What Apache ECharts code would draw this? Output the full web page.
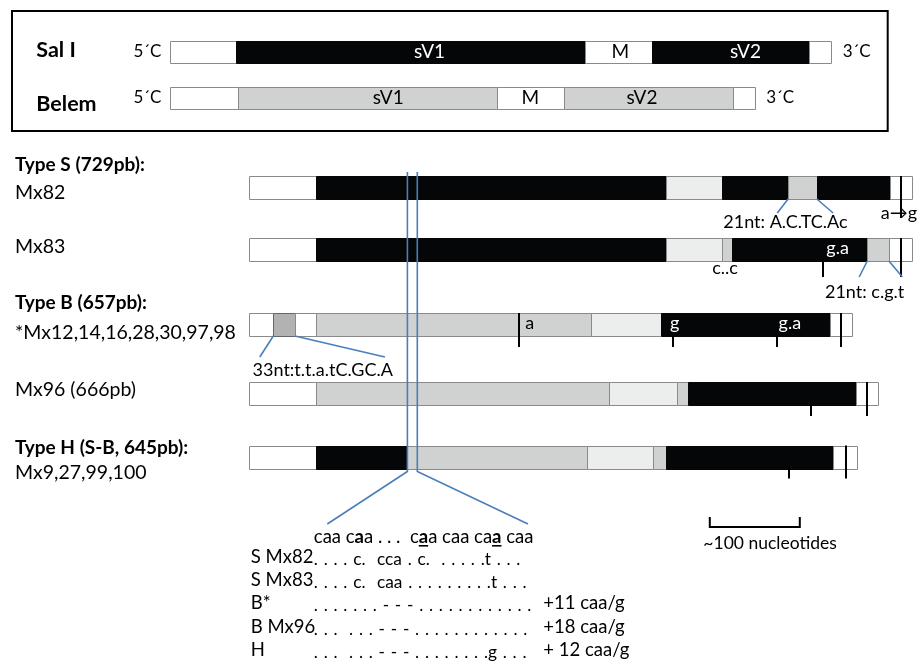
<!DOCTYPE html>
<html><head><meta charset="utf-8">
<script src="https://cdn.jsdelivr.net/npm/echarts@6/dist/echarts.min.js"></script>
<style>html,body{margin:0;padding:0;background:#fff}#c{width:919px;height:662px}</style>
</head><body><div id="c"></div>
<script>
// ================= DATA (nucleotide-like positions) =================
// Reference genomes (top box)
const REF_NAMES = ['Sal I', 'Belem'];
const SAL_I_BOUNDS = [0, 74, 462, 536, 711, 735];
const SAL_I_KINDS  = ['W', 'S', 'W', 'S', 'W'];
const BELEM_BOUNDS = [0, 76, 364, 438, 626, 651];
const BELEM_KINDS  = ['W', 'B', 'W', 'B', 'W'];
const REGION_LABELS = ['sV1', 'M', 'sV2'];
const SAL_I_LABEL_AT = [289, 501, 640];
const BELEM_LABEL_AT = [243, 401, 525];

// Isolates
const GROUP_TITLES = ['Type S (729pb):', 'Type B (657pb):', 'Type H (S-B, 645pb):'];
const ISOLATES = ['Mx82', 'Mx83', '*Mx12,14,16,28,30,97,98', 'Mx96 (666pb)', 'Mx9,27,99,100'];
const MX82_BOUNDS = [0, 74, 463, 526, 599, 631, 712, 737];
const MX82_KINDS  = ['W', 'S', 'L', 'S', 'B', 'S', 'W'];
const MX83_BOUNDS = [0, 74, 463, 526, 537, 687, 711, 737];
const MX83_KINDS  = ['W', 'S', 'L', 'B', 'S', 'B', 'W'];
const TYPEB_BOUNDS = [0, 27, 51, 74, 380, 458, 646, 670];
const TYPEB_KINDS  = ['W', 'P', 'W', 'B', 'L', 'S', 'W'];
const MX96_BOUNDS = [0, 74, 400, 476, 488, 674, 699];
const MX96_KINDS  = ['W', 'B', 'L', 'B', 'S', 'W'];
const TYPEH_BOUNDS = [0, 74, 176, 376, 449, 463, 649, 676];
const TYPEH_KINDS  = ['W', 'S', 'B', 'L', 'B', 'S', 'W'];

// point mutations: position, 'full' (crosses bar) or 'below'
const MX82_MUT = [[724, 'full']];
const MX83_MUT = [[724, 'full'], [638, 'below']];
const TYPEB_MUT = [[300, 'full'], [471, 'below'], [587, 'below'], [658, 'full']];
const MX96_MUT = [[624, 'below'], [687, 'full']];
const TYPEH_MUT = [[600, 'below'], [663, 'full']];

// labels written inside bars
const MX83_INBAR = [[654, 'g.a']];
const TYPEB_INBAR = [[312, 'a'], [473, 'g'], [601, 'g.a']];

// insert / substitution notes
const NOTES = ['21nt: A.C.TC.Ac', 'a\u2192g', 'c..c', '21nt: c.g.t', '33nt:t.t.a.tC.GC.A'];
const NOTE_SPANS = [[599, 631], null, null, [687, 711], [27, 51]]; // region each note points to

// repeat region zoomed below
const REPEAT_SPAN = [176, 187];
const SCALE_NT = [512, 612];
const SCALE_TEXT = '~100 nucleotides';

// alignment of the repeat region
const ALIGN_HEADER_PARTS = [['caa c', 0], ['a', 1], ['a . . .  c', 0], ['a', 2], ['a caa ca', 0], ['a', 2], [' caa', 0]];
const ALIGN_LABELS = ['S Mx82', 'S Mx83', 'B*', 'B Mx96', 'H'];
const ALIGN_SEQS = [
  '. . . . c.  cca . c.  . . . . .t . . .',
  '. . . . c.  caa . . . . . . . . .t . . .',
  '. . . . . . . - - - . . . . . . . . . . . .',
  '. . .  . . . - - - . . . . . . . . . . . .',
  '. . .  . . . - - - . . . . . . . .g . . .'
];
const ALIGN_EXTRA = ['', '', '+11 caa/g', '+18 caa/g', '+ 12 caa/g'];

// ================= LAYOUT / STYLE =================
const PX_PER_NT = 0.9;
const W = 919, H = 662;
const LOW_ORIGIN = 249, TOP_ORIGIN = 169.5;
const REF_ROW_Y = [52, 97.5], REF_BAR_H = 22;
const ROW_Y = [187.5, 249.5, 324.5, 393.5, 457], BAR_H = 23;
const TICK_DROP = [19, 16, 11, 11, 10];
const FILL = { W: '#ffffff', S: '#050608', B: '#d0d2d1', L: '#eceeed', P: '#b2b2b2' };
const BLUE = '#4a7ebb';
const FONT = 'Lato, "Open Sans", sans-serif';
const fnt = (s, b) => (b ? 'bold ' : '') + s + 'px ' + FONT;
const SEQ_SPACE = '\u2004'; // wider gap between alignment dots

// ================= BUILD =================
const chart = echarts.init(document.getElementById('c'));
const mctx = document.createElement('canvas').getContext('2d');
const measure = (t, font) => { mctx.font = font; return mctx.measureText(t).width; };

function segs(bounds, kinds, row) {
  return kinds.map((k, i) => [bounds[i], bounds[i + 1], row, k]);
}
const REF_SEGS = segs(SAL_I_BOUNDS, SAL_I_KINDS, 0).concat(segs(BELEM_BOUNDS, BELEM_KINDS, 1));
const ISO_B = [MX82_BOUNDS, MX83_BOUNDS, TYPEB_BOUNDS, MX96_BOUNDS, TYPEH_BOUNDS];
const ISO_K = [MX82_KINDS, MX83_KINDS, TYPEB_KINDS, MX96_KINDS, TYPEH_KINDS];
let ISO_SEGS = [];
ISO_B.forEach((b, r) => { ISO_SEGS = ISO_SEGS.concat(segs(b, ISO_K[r], r)); });

function kindAt(row, pos) {
  const b = ISO_B[row];
  for (let i = 0; i < b.length - 1; i++) if (pos >= b[i] && pos <= b[i + 1]) return ISO_K[row][i];
  return 'W';
}

function segRenderer(list, rowY, barH) {
  return function (params, api) {
    const item = list[params.dataIndex];
    const y = rowY[item[2]];
    const p0 = api.coord([item[0], y]), p1 = api.coord([item[1], y]);
    const k = item[3];
    const x0 = Math.round(p0[0]) + 0.5, x1 = Math.round(p1[0]) + 0.5, top = Math.round(p0[1] - barH / 2) + 0.5;
    return {
      type: 'rect', shape: { x: x0, y: top, width: x1 - x0, height: barH },
      style: { fill: FILL[k], stroke: k === 'S' ? FILL.S : (k === 'P' ? '#666' : '#8a8a8a'), lineWidth: 1 }
    };
  };
}

// generic text items: [x, y, text, font, color, align]
const TOP_TEXTS = [];
REF_NAMES.forEach((n, i) => TOP_TEXTS.push([-148, [50, 104][i], n, fnt(21.5, true), '#000', 'left']));
REF_NAMES.forEach((n, i) => TOP_TEXTS.push([-9, [52, 98][i], '5\u00B4C', fnt(17), '#000', 'right']));
TOP_TEXTS.push([SAL_I_BOUNDS[SAL_I_BOUNDS.length - 1] + 13, 52, '3\u00B4C', fnt(17), '#000', 'left']);
TOP_TEXTS.push([BELEM_BOUNDS[BELEM_BOUNDS.length - 1] + 12, 98, '3\u00B4C', fnt(17), '#000', 'left']);
REGION_LABELS.forEach((t, i) => {
  TOP_TEXTS.push([SAL_I_LABEL_AT[i], REF_ROW_Y[0], t, fnt(19), t === 'M' ? '#000' : '#fff', 'center']);
  TOP_TEXTS.push([BELEM_LABEL_AT[i], REF_ROW_Y[1], t, fnt(19), '#000', 'center']);
});

const LOW_TEXTS = [];
const LEFT_X = -260;
GROUP_TITLES.forEach((t, i) => LOW_TEXTS.push([LEFT_X, [165, 303, 448][i], t, fnt(19, true), '#000', 'left']));
ISOLATES.forEach((t, i) => LOW_TEXTS.push([LEFT_X, [193, 247, 333, 390, 473][i], t, fnt(19.5), '#000', 'left']));
[[1, MX83_INBAR], [2, TYPEB_INBAR]].forEach(([row, arr]) => arr.forEach(([pos, t]) => {
  LOW_TEXTS.push([pos, ROW_Y[row] - 1, t, fnt(18), kindAt(row, pos) === 'S' ? '#fff' : '#000', 'center']);
}));
const NOTE_POS = [[596, 222, 'center'], [702, 213, 'left'], [529, 268, 'center'], [684, 292, 'center'], [4, 370, 'left']];
NOTES.forEach((t, i) => LOW_TEXTS.push([NOTE_POS[i][0], NOTE_POS[i][1], t, fnt(18), '#000', NOTE_POS[i][2]]));
LOW_TEXTS.push([SCALE_NT[0] + 67, 543, SCALE_TEXT, fnt(17.5), '#000', 'center']);
const ALIGN_ROW_Y = [557, 580, 603, 627, 650];
ALIGN_LABELS.forEach((t, i) => {
  LOW_TEXTS.push([2, ALIGN_ROW_Y[i], t, fnt(18.5), '#000', 'left']);
  LOW_TEXTS.push([72, ALIGN_ROW_Y[i] + 2, ALIGN_SEQS[i].replace(/ /g, SEQ_SPACE), fnt(17.3), '#000', 'left']);
  if (ALIGN_EXTRA[i]) LOW_TEXTS.push([327, ALIGN_ROW_Y[i], ALIGN_EXTRA[i], fnt(18.5), '#000', 'left']);
});

function textRenderer(arr) {
  return function (params, api) {
    const it = arr[params.dataIndex];
    const p = api.coord([it[0], it[1]]);
    return { type: 'text', x: p[0], y: p[1], style: { text: it[2], font: it[3], fill: it[4], align: it[5], verticalAlign: 'middle' } };
  };
}

// blue connector lines
const BLUE_LINES = [];
const NOTE_ENDS = [[[587, 213], [649, 213]], null, null, [[678, 277], [726, 277]], [[12, 357], [151, 357]]];
const NOTE_ROWS = [0, null, null, 1, 2];
NOTE_SPANS.forEach((s, i) => {
  if (!s) return;
  const yb = ROW_Y[NOTE_ROWS[i]] + BAR_H / 2;
  BLUE_LINES.push([[s[0], yb], NOTE_ENDS[i][0]]);
  BLUE_LINES.push([[s[1], yb], NOTE_ENDS[i][1]]);
});
const ZOOM_TOP = ROW_Y[0] - BAR_H / 2 - 4, ZOOM_BOTTOM = ROW_Y[4] + BAR_H / 2 + 3;
BLUE_LINES.push([[REPEAT_SPAN[0], ZOOM_TOP], [REPEAT_SPAN[0], ZOOM_BOTTOM], [87, 524]]);
BLUE_LINES.push([[REPEAT_SPAN[1], ZOOM_TOP], [REPEAT_SPAN[1], ZOOM_BOTTOM], [310, 524]]);

// mutation ticks
const MUTS = [];
[MX82_MUT, MX83_MUT, TYPEB_MUT, MX96_MUT, TYPEH_MUT].forEach((arr, r) => arr.forEach(([p, t]) => MUTS.push([p, r, t])));

const option = {
  animation: false,
  grid: { left: 0, right: 0, top: 0, bottom: 0, containLabel: false },
  xAxis: [
    { type: 'value', min: -LOW_ORIGIN / PX_PER_NT, max: (W - LOW_ORIGIN) / PX_PER_NT, show: false, position: 'bottom' },
    { type: 'value', min: -TOP_ORIGIN / PX_PER_NT, max: (W - TOP_ORIGIN) / PX_PER_NT, show: false, position: 'top' }
  ],
  yAxis: { type: 'value', min: 0, max: H, inverse: true, show: false },
  series: [
    { // top frame
      type: 'custom', xAxisIndex: 1, data: [[-175, 11, 798, 131]],
      renderItem: (p, api) => {
        const a = api.coord([api.value(0), api.value(1)]), b = api.coord([api.value(2), api.value(3)]);
        return { type: 'rect', shape: { x: a[0], y: a[1], width: b[0] - a[0], height: b[1] - a[1] }, style: { fill: 'none', stroke: '#000', lineWidth: 2 } };
      }
    },
    { type: 'custom', xAxisIndex: 1, data: REF_SEGS.map(d => [d[0], d[1]]), renderItem: segRenderer(REF_SEGS, REF_ROW_Y, REF_BAR_H) },
    { type: 'custom', xAxisIndex: 1, data: TOP_TEXTS.map(d => [d[0], d[1]]), renderItem: textRenderer(TOP_TEXTS), z: 5 },
    { type: 'custom', xAxisIndex: 0, data: ISO_SEGS.map(d => [d[0], d[1]]), renderItem: segRenderer(ISO_SEGS, ROW_Y, BAR_H) },
    { // mutation ticks
      type: 'custom', xAxisIndex: 0, data: MUTS.map(d => [d[0], ROW_Y[d[1]]]), z: 4,
      renderItem: (p, api) => {
        const m = MUTS[p.dataIndex];
        const top = m[2] === 'full' ? ROW_Y[m[1]] - BAR_H / 2 : ROW_Y[m[1]] + BAR_H / 2;
        const bot = ROW_Y[m[1]] + BAR_H / 2 + TICK_DROP[m[1]];
        const a = api.coord([m[0], top]), b = api.coord([m[0], bot]);
        const x = Math.round(a[0]);
        return { type: 'line', shape: { x1: x, y1: a[1], x2: x, y2: b[1] }, style: { stroke: '#000', lineWidth: 2 } };
      }
    },
    { // blue lines
      type: 'custom', xAxisIndex: 0, data: BLUE_LINES.map(l => l[0]), z: 6,
      renderItem: (p, api) => {
        const pts = BLUE_LINES[p.dataIndex].map(q => api.coord(q));
        return { type: 'polyline', shape: { points: pts }, style: { stroke: BLUE, lineWidth: 1.6, fill: 'none' } };
      }
    },
    { // scale bar
      type: 'custom', xAxisIndex: 0, data: [[SCALE_NT[0], 517], [SCALE_NT[1], 527]],
      renderItem: (p, api) => {
        if (p.dataIndex) return null;
        const a = api.coord([SCALE_NT[0], 517]), b = api.coord([SCALE_NT[1], 527]);
        return { type: 'polyline', shape: { points: [[a[0], a[1]], [a[0], b[1]], [b[0], b[1]], [b[0], a[1]]] }, style: { stroke: '#000', lineWidth: 2, fill: 'none' } };
      }
    },
    { type: 'custom', xAxisIndex: 0, data: LOW_TEXTS.map(d => [d[0], d[1]]), renderItem: textRenderer(LOW_TEXTS), z: 5 },
    { // alignment header with bold / underlined bases
      type: 'custom', xAxisIndex: 0, data: [[72, 537]], z: 5,
      renderItem: (p, api) => {
        const o = api.coord([72, 537]);
        const children = [];
        let x = o[0];
        ALIGN_HEADER_PARTS.forEach(([t, s]) => {
          const font = fnt(18.5, s > 0);
          children.push({ type: 'text', x: x, y: o[1], style: { text: t, font: font, fill: '#000', align: 'left', verticalAlign: 'middle' } });
          const w = measure(t, font);
          if (s === 2) children.push({ type: 'rect', shape: { x: x, y: o[1] + 8, width: w, height: 1.6 }, style: { fill: '#000' } });
          x += w;
        });
        return { type: 'group', children: children };
      }
    }
  ]
};
chart.setOption(option);
</script>
</body></html>
